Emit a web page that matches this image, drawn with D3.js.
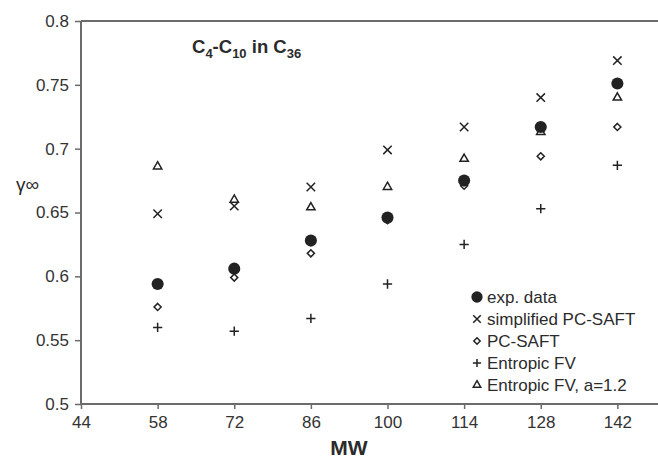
<!DOCTYPE html>
<html>
<head>
<meta charset="utf-8">
<script src="https://d3js.org/d3.v7.min.js"></script>
<style>
  body { margin: 0; background: #fff; font-family: "Liberation Sans", Arial, sans-serif; }
  svg text { fill: #2b2b2b; }
</style>
</head>
<body>
<div id="chart"></div>
<script>
const mw = [58, 72, 86, 100, 114, 128, 142]
const expData = [0.594, 0.606, 0.628, 0.646, 0.675, 0.717, 0.751]
const simplifiedPcSaft = [0.649, 0.655, 0.670, 0.699, 0.717, 0.740, 0.769]
const pcSaft = [0.576, 0.599, 0.618, 0.644, 0.671, 0.694, 0.717]
const entropicFv = [0.560, 0.557, 0.567, 0.594, 0.625, 0.653, 0.687]
const entropicFvA = [0.686, 0.660, 0.654, 0.670, 0.692, 0.713, 0.740]
const xTicks = [44, 58, 72, 86, 100, 114, 128, 142]
const yTicks = [0.5, 0.55, 0.6, 0.65, 0.7, 0.75, 0.8]

const series = [
  { name: "exp. data", values: expData, type: d3.symbolCircle, size: 115, fill: true },
  { name: "simplified PC-SAFT", values: simplifiedPcSaft, type: d3.symbolTimes, size: 48 },
  { name: "PC-SAFT", values: pcSaft, type: d3.symbolDiamond2, size: 32 },
  { name: "Entropic FV", values: entropicFv, type: d3.symbolPlus, size: 30 },
  { name: "Entropic FV, a=1.2", values: entropicFvA, type: d3.symbolTriangle2, size: 50 }
]

const w = 658, h = 467
const svg = d3.select("#chart").append("svg").attr("width", w).attr("height", h)

const x = d3.scaleLinear().domain([44, 156]).range([81, 694])
const y = d3.scaleLinear().domain([0.5, 0.8]).range([404, 21])

const axisColor = "#6b6b6b"
const font = "Liberation Sans, Arial, sans-serif"

// top frame line
svg.append("line")
  .attr("x1", x(44)).attr("x2", w)
  .attr("y1", y(0.8)).attr("y2", y(0.8))
  .style("stroke", axisColor).style("stroke-width", 2)

const xAxis = svg.append("g")
  .attr("transform", "translate(0," + y(0.5) + ")")
  .call(d3.axisBottom(x).tickValues(xTicks).tickSize(5).tickPadding(7).tickFormat(d3.format("d")))
xAxis.select(".domain").attr("d", "M" + x(44) + ",0H" + w).style("stroke", axisColor).style("stroke-width", 2)
xAxis.selectAll(".tick line").style("stroke", axisColor).style("stroke-width", 1.5)
xAxis.selectAll("text").style("font-size", "17px").style("fill", "#333").attr("font-family", font)

const yAxis = svg.append("g")
  .attr("transform", "translate(" + x(44) + ",0)")
  .call(d3.axisLeft(y).tickValues(yTicks).tickSize(6).tickPadding(6).tickFormat(d => String(+d.toFixed(2))))
yAxis.select(".domain").attr("d", "M0," + y(0.8) + "V" + y(0.5)).style("stroke", axisColor).style("stroke-width", 2)
yAxis.selectAll(".tick line").style("stroke", axisColor).style("stroke-width", 1.5)
yAxis.selectAll("text").style("font-size", "17px").style("fill", "#333").attr("font-family", font)

// axis titles
svg.append("text").attr("x", 349).attr("y", 455).attr("text-anchor", "middle")
  .style("font-size", "21px").style("font-weight", "bold").text("MW")
svg.append("text").attr("x", 16).attr("y", 191)
  .style("font-size", "19px").text("γ∞")

// inset title with subscripts
const title = svg.append("text").attr("x", 192).attr("y", 53)
  .style("font-size", "18.5px").style("font-weight", "bold")
title.append("tspan").text("C")
title.append("tspan").attr("dy", 5).style("font-size", "13px").text("4")
title.append("tspan").attr("dy", -5).text("-C")
title.append("tspan").attr("dy", 5).style("font-size", "13px").text("10")
title.append("tspan").attr("dy", -5).text(" in C")
title.append("tspan").attr("dy", 5).style("font-size", "13px").text("36")

const markColor = "#222"
function styleMark(sel, s) {
  sel.style("fill", s.fill ? markColor : "none")
    .style("stroke", s.fill ? "none" : markColor)
    .style("stroke-width", 1.5)
}

series.forEach(s => {
  const sym = d3.symbol().type(s.type).size(s.size)
  svg.append("g").selectAll("path")
    .data(s.values)
    .join("path")
    .attr("d", sym)
    .attr("transform", (d, i) => "translate(" + x(mw[i]) + "," + y(d) + ")")
    .call(styleMark, s)
})

// legend
const legend = svg.append("g").attr("transform", "translate(477,297)")
series.forEach((s, i) => {
  const row = legend.append("g").attr("transform", "translate(0," + i * 22 + ")")
  row.append("path").attr("d", d3.symbol().type(s.type).size(s.fill ? 100 : s.size * 0.8)()).call(styleMark, s)
  row.append("text").attr("x", 10).attr("y", 6).style("font-size", "17px").text(s.name)
})
</script>
</body>
</html>
